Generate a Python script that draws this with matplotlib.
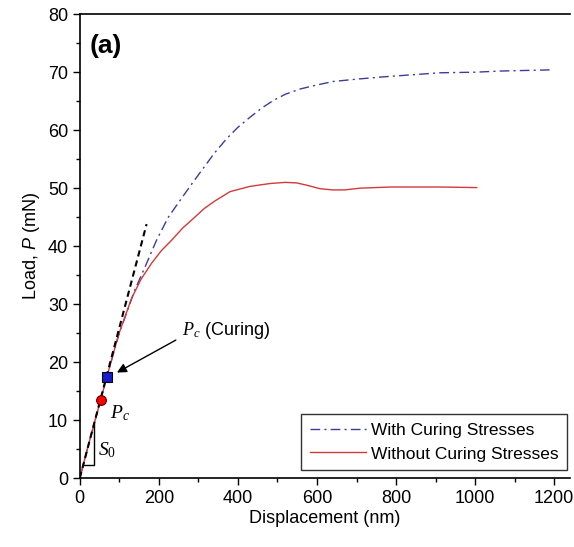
import matplotlib
matplotlib.use("Agg")
import matplotlib.pyplot as plt
from matplotlib.ticker import MultipleLocator

# load-displacement curves
disp_cure = [0, 25, 50, 68, 100, 139, 165, 194, 224, 260, 285, 312, 340, 371, 400,
             430, 460, 489, 520, 557, 600, 641, 700, 768, 850, 911, 1000, 1063, 1190]
load_cure = [0, 6.5, 12.8, 17.4, 25.0, 32.4, 36.4, 41.0, 45.0, 48.5, 50.9, 53.4, 56.0,
             58.5, 60.5, 62.2, 63.8, 65.1, 66.2, 67.1, 67.8, 68.4, 68.8, 69.2, 69.6,
             69.9, 70.0, 70.2, 70.4]

disp_nocure = [0, 25, 50, 68, 97, 131, 155, 181, 206, 232, 260, 291, 315, 342, 380,
               430, 481, 520, 549, 575, 608, 640, 670, 709, 785, 850, 911, 1004]
load_nocure = [0, 6.5, 12.8, 17.3, 24.5, 31.0, 34.3, 37.0, 39.2, 41.0, 43.1, 45.0,
               46.5, 47.8, 49.4, 50.3, 50.8, 51.0, 50.9, 50.5, 49.9, 49.7, 49.7, 50.0,
               50.2, 50.2, 50.2, 50.1]

# initial stiffness line S0 and the critical loads
s0_x = [0, 169]
s0_y = [0, 43.8]
tri_x = [8, 36, 36]
tri_y = [2.2, 2.2, 9.4]
pc_x, pc_y = 53, 13.4
pc_cure_x, pc_cure_y = 68, 17.4

plt.rcParams.update({
    "font.family": "Liberation Sans",
    "font.size": 13,
    "mathtext.fontset": "custom",
    "mathtext.it": "Liberation Serif:italic",
    "mathtext.rm": "Liberation Serif",
    "mathtext.sf": "Liberation Sans:italic",
})

fig = plt.figure(figsize=(5.74, 5.47), dpi=100)
ax = fig.add_axes([0.139, 0.126, 0.854, 0.848])

ax.plot(disp_cure, load_cure, color="#3c3c9c", lw=1.0, ls=(0, (7, 3, 1.5, 3)),
        label="With Curing Stresses")
ax.plot(disp_nocure, load_nocure, color="#d03a3a", lw=1.0, label="Without Curing Stresses")
ax.plot(s0_x, s0_y, color="black", lw=1.5, ls=(0, (3, 2)))
ax.plot(tri_x, tri_y, color="black", lw=1.0)
ax.plot(pc_x, pc_y, "o", ms=7, mfc="red", mec="#550000", mew=0.8)
ax.plot(pc_cure_x, pc_cure_y, "s", ms=7, mfc="#1a1acc", mec="black", mew=0.8)

ax.text(76, 11.2, "$P_c$", fontsize=14, va="center")
ax.text(45, 4.8, "$S_{\\mathit{0}}$", fontsize=14, va="center")
ax.text(258, 25.5, "$P_c$ (Curing)", fontsize=13, va="center")
ax.annotate("", xy=(94, 18.2), xytext=(243, 23.8),
            arrowprops=dict(arrowstyle="-|>", color="black", lw=1.0,
                            mutation_scale=14, shrinkA=0, shrinkB=0))
ax.text(25, 74.5, "(a)", fontsize=19, fontweight="bold", va="center")

ax.set_xlim(0, 1240)
ax.set_ylim(0, 80)
ax.xaxis.set_major_locator(MultipleLocator(200))
ax.xaxis.set_minor_locator(MultipleLocator(100))
ax.yaxis.set_major_locator(MultipleLocator(10))
ax.yaxis.set_minor_locator(MultipleLocator(5))
ax.tick_params(which="major", direction="out", length=5, width=1, labelsize=13)
ax.tick_params(which="minor", direction="out", length=3, width=1)
ax.tick_params(top=False, right=False)
ax.spines["right"].set_visible(False)
for s in ("left", "bottom", "top"):
    ax.spines[s].set_linewidth(1.2)

ax.set_xlabel("Displacement (nm)", fontsize=13, labelpad=2)
ax.set_ylabel("Load, $\\mathsf{P}$ (mN)", fontsize=13, labelpad=4)

leg = ax.legend(loc="lower right", bbox_to_anchor=(0.994, 0.017), borderaxespad=0,
                fancybox=False, edgecolor="black", fontsize=12.5, handlelength=3.2,
                handletextpad=0.3, borderpad=0.5, labelspacing=0.5)
leg.get_frame().set_linewidth(1.0)

fig.savefig("out.png", dpi=100)
